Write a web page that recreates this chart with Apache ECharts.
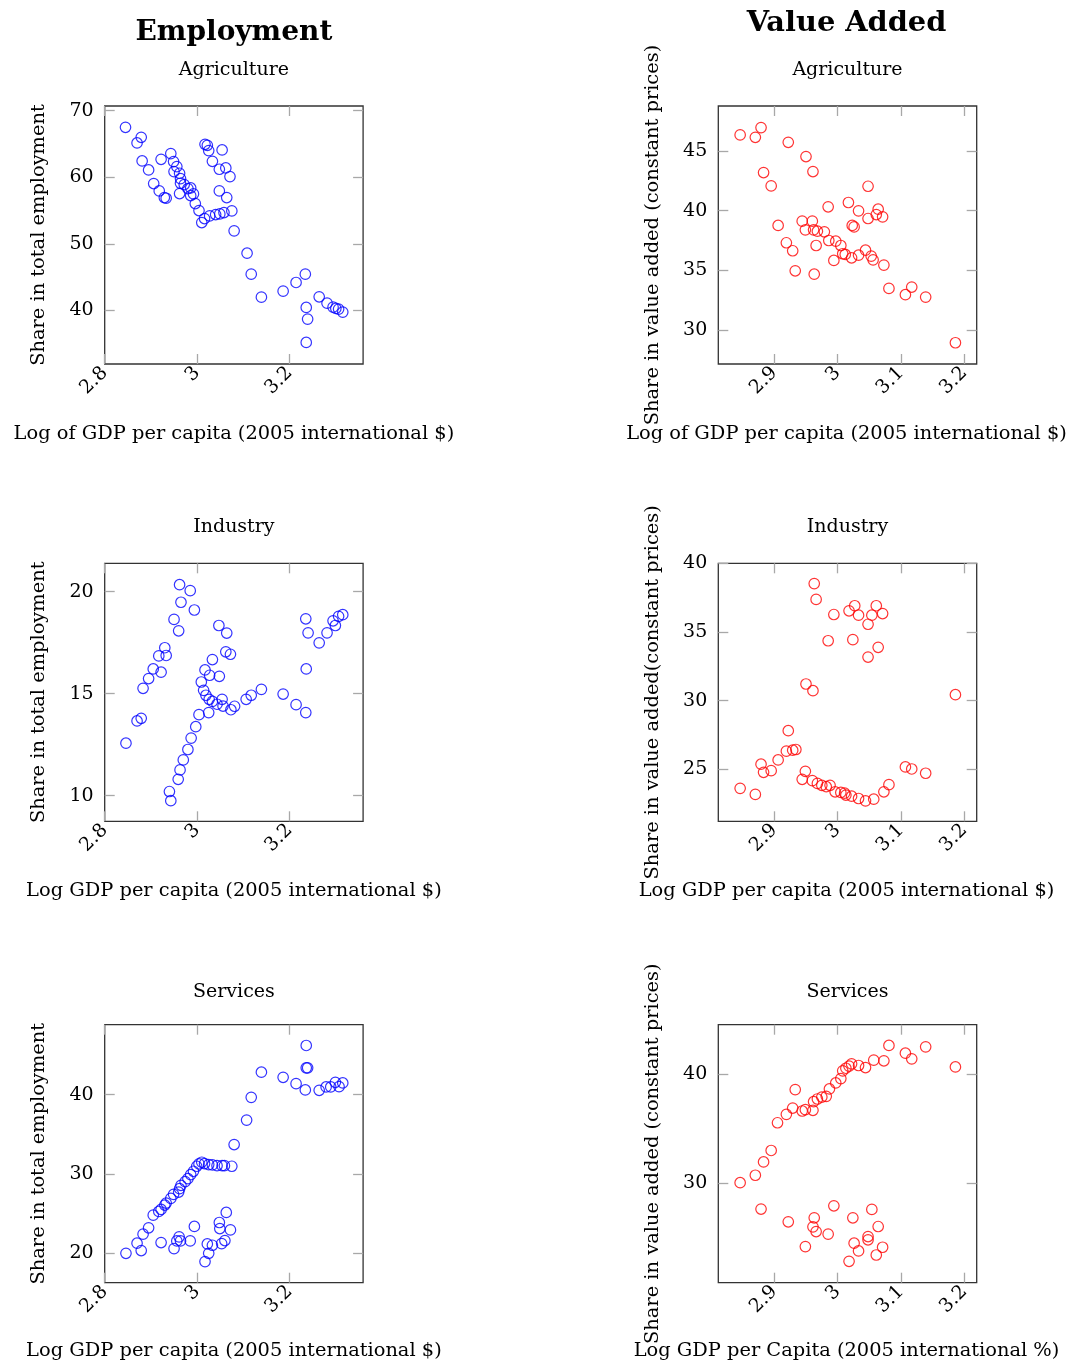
<!DOCTYPE html>
<html>
<head>
<meta charset="utf-8">
<script src="https://cdn.jsdelivr.net/npm/echarts@6/dist/echarts.min.js"></script>
<style>
  html, body { margin: 0; padding: 0; background: #fff; }
  #chart { width: 1073px; height: 1362px; }
</style>
</head>
<body>
<div id="chart"></div>
<script>
// ---- Employment shares vs. log GDP per capita ----
const empAgriX = [2.845,2.879,2.870,2.881,2.895,2.906,2.918,2.929,2.933,2.922,2.943,2.949,2.956,2.950,2.962,2.964,2.964,2.962,2.972,2.980,2.986,2.992,2.986,2.996,3.004,3.010,3.016,3.027,3.040,3.049,3.058,3.075,3.017,3.022,3.025,3.054,3.033,3.048,3.062,3.071,3.048,3.064,3.080,3.108,3.117,3.139,3.186,3.214,3.234,3.236,3.239,3.236,3.264,3.281,3.294,3.300,3.306,3.315];
const empAgriY = [67.5,66.0,65.15,62.45,61.1,59.05,57.95,56.95,56.85,62.7,63.55,62.35,61.6,60.85,60.6,59.8,59.1,57.55,58.9,58.3,58.4,57.5,57.25,56.05,55.0,53.2,53.8,54.2,54.4,54.5,54.7,54.95,64.95,64.8,64.0,64.1,62.4,61.2,61.4,60.1,57.95,56.95,51.95,48.6,45.45,42.0,42.9,44.2,45.45,40.45,38.7,35.2,42.05,41.1,40.5,40.3,40.2,39.75];

const empIndX = [2.846,2.870,2.879,2.883,2.895,2.905,2.922,2.917,2.930,2.933,2.950,2.960,2.962,2.965,2.985,2.994,2.943,2.940,2.959,2.963,2.970,2.980,2.987,2.997,3.004,3.025,3.009,3.014,3.019,3.026,3.033,3.043,3.054,3.056,3.073,3.081,3.106,3.117,3.139,3.017,3.027,3.048,3.033,3.062,3.072,3.047,3.064,3.186,3.214,3.235,3.236,3.235,3.240,3.264,3.281,3.294,3.299,3.306,3.315];
const empIndY = [12.57,13.66,13.79,15.26,15.74,16.21,16.05,16.85,17.25,16.87,18.64,18.08,20.34,19.48,20.05,19.1,9.75,10.2,10.8,11.26,11.75,12.26,12.82,13.38,13.97,14.07,15.57,15.16,14.92,14.72,14.62,14.48,14.72,14.39,14.21,14.38,14.72,14.92,15.21,16.16,15.9,15.85,16.67,17.05,16.93,18.34,17.97,14.98,14.46,14.07,16.21,18.67,17.98,17.49,17.98,18.57,18.34,18.79,18.87];

const empSrvX = [2.846,2.870,2.879,2.883,2.895,2.905,2.917,2.922,2.930,2.933,2.943,2.949,2.960,2.962,2.965,2.974,2.980,2.986,2.992,2.999,3.004,3.010,3.016,3.025,3.033,3.043,3.054,3.059,3.075,3.080,3.107,3.117,3.139,3.186,3.214,3.234,3.236,3.236,3.239,3.264,3.279,3.289,3.299,3.307,3.315,2.922,2.950,2.956,2.961,2.964,2.985,2.994,3.017,3.025,3.022,3.033,3.048,3.049,3.063,3.072,3.060,3.053];
const empSrvY = [20.0,21.27,20.34,22.41,23.21,24.81,25.27,25.53,26.08,26.33,26.92,27.43,27.72,28.14,28.57,29.03,29.41,29.92,30.34,30.97,31.27,31.48,31.31,31.18,31.14,31.05,31.05,31.05,30.97,33.71,36.79,39.66,42.83,42.19,41.39,40.59,46.2,43.38,43.38,40.55,40.97,40.97,41.56,41.01,41.48,21.35,20.59,21.56,22.07,21.56,21.56,23.38,18.95,20.0,21.18,21.01,23.88,23.12,25.15,22.95,21.6,21.22];

// ---- Value-added shares (constant prices) vs. log GDP per capita ----
const vaAgriX = [2.846,2.870,2.879,2.922,2.950,2.961,2.883,2.895,3.048,3.017,2.985,3.033,3.064,3.061,3.071,3.048,2.906,2.944,2.960,2.949,2.962,2.968,2.979,3.023,3.026,2.919,2.929,2.966,2.986,2.997,3.005,3.008,3.012,3.022,3.033,3.044,3.053,3.056,3.073,2.994,2.933,2.963,3.081,3.107,3.117,3.139,3.186];
const vaAgriY = [46.34,46.14,46.95,45.72,44.53,43.27,43.19,42.07,42.04,40.68,40.32,39.98,40.12,39.67,39.48,39.34,38.76,39.12,39.12,38.39,38.39,38.28,38.23,38.76,38.64,37.31,36.64,37.08,37.5,37.44,37.08,36.39,36.33,36.05,36.27,36.69,36.19,35.88,35.44,35.83,34.96,34.68,33.49,32.96,33.6,32.76,28.94];

const vaIndX = [2.963,2.966,2.994,3.018,3.027,3.033,3.048,3.054,3.061,3.071,2.985,3.024,3.064,3.048,2.950,2.961,3.186,2.922,2.919,2.929,2.934,2.906,2.879,2.883,2.895,2.846,2.870,2.949,2.944,2.960,2.968,2.975,2.982,2.988,2.996,3.005,3.011,3.013,3.022,3.033,3.044,3.057,3.073,3.081,3.107,3.117,3.139];
const vaIndY = [38.52,37.37,36.27,36.54,36.91,36.22,35.56,36.22,36.91,36.34,34.36,34.44,33.88,33.17,31.21,30.72,30.43,27.81,26.32,26.39,26.44,25.68,25.37,24.78,24.9,23.61,23.17,24.85,24.27,24.17,23.97,23.83,23.73,23.83,23.36,23.31,23.26,23.12,23.04,22.87,22.7,22.82,23.36,23.88,25.17,25.02,24.71];

const vaSrvX = [2.846,2.870,2.883,2.895,2.905,2.919,2.929,2.933,2.944,2.949,2.961,2.962,2.968,2.975,2.982,2.987,2.997,3.005,3.008,3.013,3.018,3.022,3.033,3.044,3.057,3.073,3.081,3.107,3.117,3.139,3.186,2.879,2.922,2.949,2.963,2.961,2.966,2.985,2.994,3.018,3.026,3.033,3.024,3.048,3.048,3.054,3.064,3.061,3.071];
const vaSrvY = [30.03,30.71,31.93,32.98,35.52,36.29,36.87,38.56,36.6,36.72,36.66,37.45,37.7,37.88,37.94,38.62,39.17,39.57,40.28,40.52,40.71,40.92,40.77,40.58,41.26,41.2,42.61,41.9,41.38,42.48,40.64,27.61,26.44,24.17,26.81,25.98,25.55,25.31,27.91,22.82,24.48,23.77,26.81,25.09,24.79,27.58,26.01,23.4,24.11];

// ---- Tick labels ----
const empXTicks = [2.8, 3, 3.2];
const vaXTicks = [2.9, 3, 3.1, 3.2];
const empAgriTicks = [40, 50, 60, 70];
const empIndTicks = [10, 15, 20];
const empSrvTicks = [20, 30, 40];
const vaAgriTicks = [30, 35, 40, 45];
const vaIndTicks = [25, 30, 35, 40];
const vaSrvTicks = [30, 40];

// ---- Text ----
const colTitles = ['Employment', 'Value Added'];
const sectorTitles = ['Agriculture', 'Industry', 'Services'];
const empYLabel = 'Share in total employment';
const vaYLabels = ['Share in value added (constant prices)', 'Share in value added(constant prices)', 'Share in value added (constant prices)'];
const empXLabels = ['Log of GDP per capita (2005 international $)', 'Log GDP per capita (2005 international $)', 'Log GDP per capita (2005 international $)'];
const vaXLabels = ['Log of GDP per capita (2005 international $)', 'Log GDP per capita (2005 international $)', 'Log GDP per Capita (2005 international %)'];

const zip = (xs, ys) => xs.map((x, i) => [x, ys[i]]);

const FONT = '"DejaVu Serif", serif';
const LABEL_SIZE = 19.4;
const TICK_SIZE = 19;
const BLUE = '#0000ff';
const RED = '#ff0000';
const PW = 258.4, PH = 258;
const colLeft = [104.7, 718.3];
const rowTop = [106, 563.3, 1024.7];

const panels = [
  { col: 0, row: 0, xr: [2.800, 3.359], xt: empXTicks, yr: [31.96, 70.7], yt: empAgriTicks, data: zip(empAgriX, empAgriY), color: BLUE },
  { col: 1, row: 0, xr: [2.8115, 3.2196], xt: vaXTicks, yr: [27.16, 48.76], yt: vaAgriTicks, data: zip(vaAgriX, vaAgriY), color: RED },
  { col: 0, row: 1, xr: [2.800, 3.359], xt: empXTicks, yr: [8.74, 21.39], yt: empIndTicks, data: zip(empIndX, empIndY), color: BLUE },
  { col: 1, row: 1, xr: [2.8115, 3.2196], xt: vaXTicks, yr: [21.21, 40.0], yt: vaIndTicks, data: zip(vaIndX, vaIndY), color: RED },
  { col: 0, row: 2, xr: [2.800, 3.359], xt: empXTicks, yr: [16.29, 48.82], yt: empSrvTicks, data: zip(empSrvX, empSrvY), color: BLUE },
  { col: 1, row: 2, xr: [2.8115, 3.2196], xt: vaXTicks, yr: [20.86, 44.51], yt: vaSrvTicks, data: zip(vaSrvX, vaSrvY), color: RED }
];

const tickStyle = (vals) => ({
  show: true, inside: true, length: 10, customValues: vals,
  lineStyle: { color: '#a8a8a8', width: 1.3 }
});

const grid = [], xAxis = [], yAxis = [], series = [];
panels.forEach((p, i) => {
  grid.push({
    left: colLeft[p.col], top: rowTop[p.row], width: PW, height: PH,
    show: true, borderColor: '#333333', borderWidth: 1.3, backgroundColor: 'transparent'
  });
  xAxis.push({
    gridIndex: i, type: 'value', position: 'bottom', min: p.xr[0], max: p.xr[1],
    axisLine: { show: false }, splitLine: { show: false },
    axisTick: tickStyle(p.xt),
    axisLabel: { show: true, customValues: p.xt, rotate: 45, margin: 6, color: '#000', fontFamily: FONT, fontSize: TICK_SIZE }
  });
  xAxis.push({
    gridIndex: i, type: 'value', position: 'top', min: p.xr[0], max: p.xr[1],
    axisLine: { show: false }, splitLine: { show: false },
    axisTick: tickStyle(p.xt), axisLabel: { show: false }
  });
  yAxis.push({
    gridIndex: i, type: 'value', position: 'left', min: p.yr[0], max: p.yr[1],
    axisLine: { show: false }, splitLine: { show: false },
    axisTick: tickStyle(p.yt),
    axisLabel: { show: true, customValues: p.yt, margin: 11, color: '#000', fontFamily: FONT, fontSize: TICK_SIZE }
  });
  yAxis.push({
    gridIndex: i, type: 'value', position: 'right', min: p.yr[0], max: p.yr[1],
    axisLine: { show: false }, splitLine: { show: false },
    axisTick: tickStyle(p.yt), axisLabel: { show: false }
  });
  series.push({
    type: 'scatter', xAxisIndex: 2 * i, yAxisIndex: 2 * i, data: p.data,
    symbol: 'circle', symbolSize: 10.5,
    itemStyle: { color: 'rgba(0,0,0,0)', borderColor: p.color, borderWidth: 1.2 },
    emphasis: { disabled: true }, silent: true
  });
});

const colCenter = [colLeft[0] + PW / 2, colLeft[1] + PW / 2];
const text = (t, x, y, size, opts = {}) => ({
  type: 'text', x, y, rotation: opts.rot || 0, silent: true,
  style: {
    text: t, fill: '#000', align: 'center', verticalAlign: 'middle',
    font: (opts.bold ? 'bold ' : '') + size + 'px ' + FONT
  }
});

const graphic = [
  text(colTitles[0], colCenter[0], 33, 28, { bold: true }),
  text(colTitles[1], colCenter[1] - 1, 24, 28.8, { bold: true })
];
const subY = [70, 527, 992];
const xLabY = [434, 891, 1351];
for (let r = 0; r < 3; r++) {
  const mid = rowTop[r] + PH / 2;
  graphic.push(text(sectorTitles[r], colCenter[0], subY[r], 19));
  graphic.push(text(sectorTitles[r], colCenter[1], subY[r], 19));
  graphic.push(text(empYLabel, 39, mid, LABEL_SIZE, { rot: Math.PI / 2 }));
  graphic.push(text(vaYLabels[r], 653, mid, LABEL_SIZE, { rot: Math.PI / 2 }));
  graphic.push(text(empXLabels[r], colCenter[0], xLabY[r], LABEL_SIZE));
  graphic.push(text(vaXLabels[r], colCenter[1] - 1, xLabY[r], LABEL_SIZE));
}

const chart = echarts.init(document.getElementById('chart'), null, { renderer: 'canvas' });
chart.setOption({
  animation: false,
  backgroundColor: '#fff',
  grid, xAxis, yAxis, series, graphic
});
</script>
</body>
</html>
